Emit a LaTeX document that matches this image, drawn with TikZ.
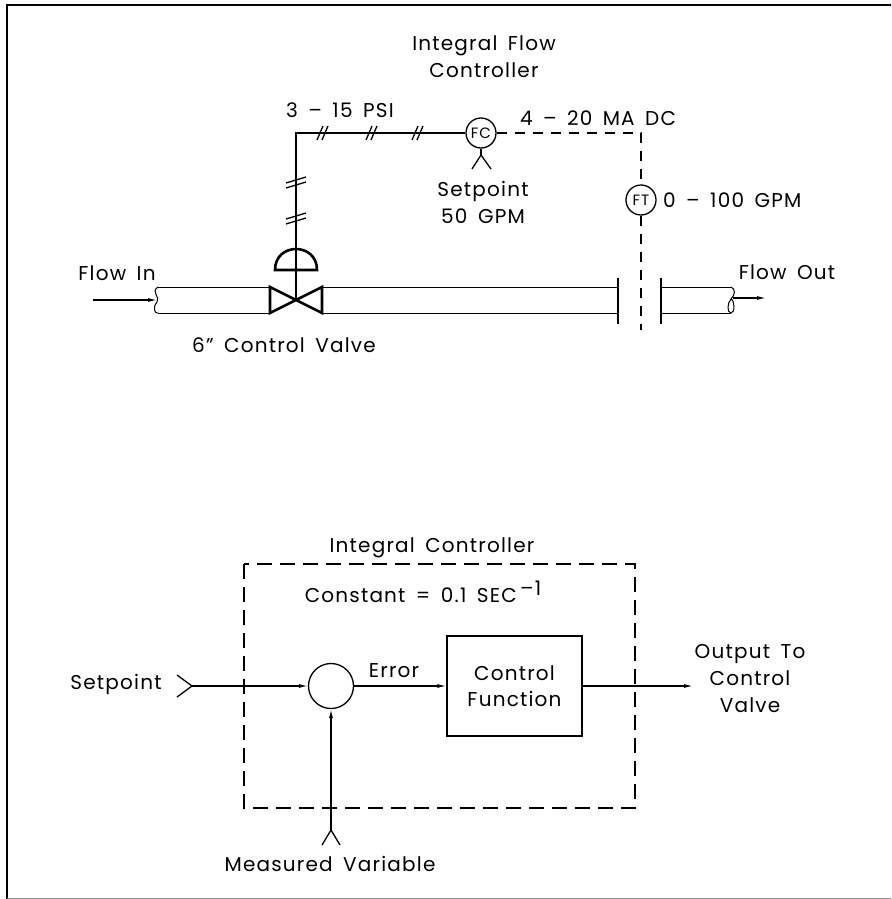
\documentclass[tikz,border=0pt]{standalone}
\usepackage{fontspec}
\setmainfont{Poppins}[LetterSpace=6,WordSpace=1.6]
\usetikzlibrary{arrows.meta}
\begin{document}
\begin{tikzpicture}[x=1pt,y=-1pt,
  lbl/.style={font=\fontsize{20}{27}\selectfont, inner sep=0pt, align=center},
  inst/.style={circle, draw, line width=1.3pt, minimum size=30pt, inner sep=0pt, font=\fontsize{15}{15}\selectfont},
  sig/.style={line width=1.3pt},
  pipe/.style={line width=1pt},
  valve/.style={line width=2.6pt, line join=miter},
  elec/.style={line width=1.2pt, dash pattern=on 10pt off 8pt},
  boxdash/.style={line width=1.3pt, dash pattern=on 15pt off 8pt},
  arr/.style={line width=1.2pt, -{Latex[length=9pt,width=4pt]}},
  fbox/.style={draw, line width=1.3pt, minimum width=135pt, minimum height=100pt, inner sep=0pt, align=center, font=\fontsize{20}{26}\selectfont},
  sumc/.style={circle, draw, line width=1.3pt, minimum size=45pt, inner sep=0pt}]
\useasboundingbox (0,0) rectangle (891,899);
% frame
\draw[line width=2.5pt] (7,899) -- (7,5) -- (891,5);
\draw[line width=1pt, black!45] (7,898) -- (891,898);

% ---------- upper P&ID ----------
\node[lbl] (title1) at (484,57) {Integral Flow\\Controller};
\node[lbl] (psi) at (340,110) {3 – 15 PSI};
\node[inst] (fc) at (481,133) {FC};
\node[inst] (ft) at (641,200) {FT};
\node[lbl] (ma) at (598,118) {4 – 20 MA DC};
\node[lbl, anchor=west] (gpm) at (663,200) {0 – 100 GPM};
\node[lbl] (sp) at (483,202) {Setpoint\\50 GPM};
\node[lbl] (flowin) at (117,273) {Flow In};
\node[lbl] (flowout) at (787,272) {Flow Out};
\node[lbl] (cvlabel) at (284,345) {6" Control Valve};

% valve actuator
\coordinate (stemtop) at (296,270);
\coordinate (vc) at (296,300);
\coordinate (corner) at (296,133);
\draw[valve] (275,270) .. controls (275,242) and (317,242) .. (317,270) -- cycle;
\draw[valve] (stemtop) -- (vc);
\draw[valve] (270,287) -- (270,313) -- (vc) -- cycle;
\draw[valve] (322,287) -- (322,313) -- (vc) -- cycle;

% pneumatic signal line
\draw[sig] (fc.west) -- (corner) -- (stemtop);
\foreach \x in {323,372,418}
  \draw[sig] (\x-6,140) -- (\x,126) (\x-1,140) -- (\x+5,126);
\foreach \y in {182,218}
  \draw[sig] (286,\y+1) -- (306,\y-5) (286,\y+6) -- (306,\y);

% FC setpoint symbol
\coordinate (fcv) at (481,155);
\draw[sig] (fc.south) -- (fcv);
\draw[sig] (472,169) -- (fcv) -- (491,169);

% electric signal
\coordinate (ecorner) at (641,133);
\coordinate (eend) at (641,330);
\draw[elec] (fc.east) -- (ecorner) -- (ft.north);
\draw[elec] (ft.south) -- (eend);

% pipes
\coordinate (inarr) at (93,300);
\coordinate (inpipe) at (157,300);
\draw[arr] (inarr) -- (inpipe);
\draw[pipe] (158,287) .. controls (150,292) and (161,297) .. (157,302) .. controls (152,308) and (155,314) .. (158,313);
\draw[pipe] (158,287) -- (270,287) (158,313) -- (270,313);
\draw[pipe] (322,287) -- (618,287) (322,313) -- (618,313);
\draw[line width=1.4pt] (618,278) -- (618,324);
\draw[line width=1.4pt] (661,278) -- (661,324);
\draw[pipe] (661,287) -- (731,287) (661,313) -- (731,313);
\draw[pipe] (731,287) .. controls (736,289) and (735,295) .. (731,299) .. controls (727,303) and (727,313) .. (731,313);
\draw[pipe] (731,299) .. controls (735,301) and (735,313) .. (731,313);
\coordinate (outpipe) at (733,298);
\coordinate (outarr) at (766,298);
\draw[arr] (outpipe) -- (outarr);

% ---------- lower block diagram ----------
\draw[boxdash] (244,564) rectangle (635,808);
\node[lbl] (ictitle) at (432,548) {Integral Controller};
\node[lbl] (const) at (423,592) {Constant = 0.1 SEC\,\raisebox{7pt}{–1}};
\node[sumc] (sum) at (331,686) {};
\node[fbox] (cf) at (514.5,686) {Control\\Function};
\node[lbl] (setp) at (116,684) {Setpoint};
\node[lbl] (err) at (394,671) {Error};
\node[lbl] (outtxt) at (750,679) {Output To\\Control\\Valve};
\node[lbl] (mv) at (330,864) {Measured Variable};

\coordinate (sptip) at (192,686);
\draw[sig] (177,675) -- (sptip) -- (177,697);
\draw[arr] (sptip) -- (sum.west);
\draw[arr] (sum.east) -- (cf.west);
\coordinate (outend) at (693,686);
\draw[arr] (cf.east) -- (outend);
\coordinate (mvbot) at (331,830);
\draw[arr] (mvbot) -- (sum.south);
\draw[sig] (322,845) -- (mvbot) -- (340,845);
\end{tikzpicture}
\end{document}
